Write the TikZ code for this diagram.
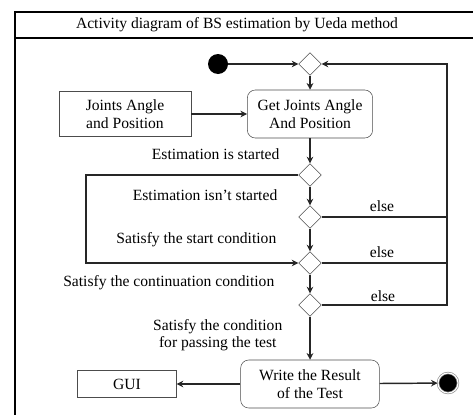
\documentclass[tikz,border=0pt]{standalone}
\usepackage{fontspec}
\setmainfont{Liberation Serif}
\usetikzlibrary{shapes.geometric,arrows.meta}
\begin{document}
\begin{tikzpicture}[x = 0.75pt, y = -0.75pt,
    every node/.style = {font=\fontsize{11.7}{13}\selectfont},
    act/.style = {draw=black!70, rounded corners=6pt, align=center, minimum width=94pt, minimum height=36pt},
    obj/.style = {draw=black!70, align=center},
    merge/.style = {diamond, draw=black!70, inner sep=0pt, minimum size=17pt},
    arr/.style = {line width=1.1pt, draw=black!85, -{Stealth[length=5pt,width=5pt]}},
    line/.style = {line width=1.1pt, draw=black!85},
    lbl/.style = {anchor=east, align=center}]
    \useasboundingbox (0,0) rectangle (473,414);
    % frame
    \draw[line width=1.1pt] (15,430) |- (490,12);
    \draw[line width=1.1pt] (15,38) -- (490,38);
    \node (title) at (237,25) {Activity diagram of BS estimation by Ueda method};
    % nodes
    \node[circle, fill=black, minimum size=15pt, inner sep=0pt] (start) at (218,64) {};
    \node[merge] (m1) at (310,64) {};
    \node[act] (get) at (310,114) {Get Joints Angle\\And Position};
    \node[obj, minimum width=99pt, minimum height=34pt] (joints) at (125,114) {Joints Angle\\and Position};
    \node[merge] (d1) at (310,175) {};
    \node[merge] (d2) at (310,217) {};
    \node[merge] (d3) at (310,263) {};
    \node[merge] (d4) at (310,305) {};
    \node[act, minimum width=104pt] (write) at (310,384) {Write the Result\\of the Test};
    \node[obj, minimum width=74pt, minimum height=20pt] (gui) at (127,384) {GUI};
    \node[circle, fill=black, draw=black!45, double=white, double distance=0.8pt, line width=0.5pt, minimum size=15pt, inner sep=0pt] (end) at (448,383) {};
    \coordinate (left) at (86,175);
    \coordinate (back) at (447,305);
    % labels
    \node[lbl] (l1) at (284,154) {Estimation is started};
    \node[lbl] (l2) at (282,195) {Estimation isn't started};
    \node[lbl] (l3) at (281,240) {Satisfy the start condition};
    \node[lbl] (l4) at (279,283) {Satisfy the continuation condition};
    \node[lbl] (l5) at (287,335) {Satisfy the condition\\for passing the test};
    \node (e1) at (382,206) {else};
    \node (e2) at (382,252) {else};
    \node (e3) at (383,296) {else};
    % connectors
    \draw[arr] (start) -- (m1);
    \draw[arr] (m1) -- (get);
    \draw[arr] (joints) -- (get);
    \draw[arr] (get) -- (d1);
    \draw[arr] (d1) -- (d2);
    \draw[arr] (d2) -- (d3);
    \draw[arr] (d3) -- (d4);
    \draw[arr] (d4) -- (write);
    \draw[arr] (d1.west) -- (left) |- (d3.west);
    \draw[line] (d2.east) -- (d2.east -| back);
    \draw[line] (d3.east) -- (d3.east -| back);
    \draw[arr] (d4.east) -- (back) |- (m1.east);
    \draw[arr] (write) -- (gui);
    \draw[arr] (write) -- (end);
\end{tikzpicture}
\end{document}
